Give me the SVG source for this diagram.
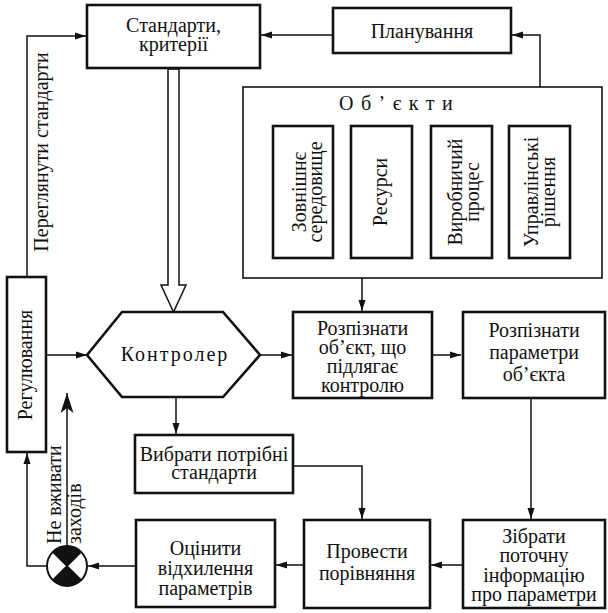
<svg xmlns="http://www.w3.org/2000/svg" width="608" height="613" viewBox="0 0 608 613">
<defs>
<style>
.box{fill:#fff;stroke:#111;stroke-width:2.6}
.frame{fill:#fff;stroke:#111;stroke-width:1.6}
.ln{fill:none;stroke:#111;stroke-width:1.5}
.t{font-family:"Liberation Serif","Times New Roman",serif;font-size:20px;fill:#111;text-anchor:middle}
.s{text-anchor:start}
</style>
<marker id="arr" markerUnits="userSpaceOnUse" markerWidth="11" markerHeight="8" refX="11" refY="4" orient="auto">
<path d="M0,0.5 L11,4 L0,7.5 z" fill="#111"/>
</marker>
<marker id="bold" markerUnits="userSpaceOnUse" markerWidth="20" markerHeight="14" refX="20" refY="7" orient="auto">
<path d="M0,0.5 L20,7 L0,13.5 L5,7 z" fill="#111"/>
</marker>
</defs>
<rect width="608" height="613" fill="#fff"/>

<g id="connectors">
<polyline class="ln" points="27,277 27,36 86,36" marker-end="url(#arr)"/>
<line class="ln" x1="333" y1="35" x2="261" y2="35" marker-end="url(#arr)"/>
<polyline class="ln" points="540,87 540,35 512,35" marker-end="url(#arr)"/>
<polygon points="168,69 179,69 179,285 186,285 173.5,312 161,285 168,285" fill="#fff" stroke="#111" stroke-width="1.5" stroke-linejoin="miter"/>
<line class="ln" x1="362" y1="278" x2="362" y2="311" marker-end="url(#arr)"/>
<line class="ln" x1="46" y1="355" x2="87" y2="355" marker-end="url(#arr)"/>
<line class="ln" x1="260" y1="355" x2="292" y2="355" marker-end="url(#arr)"/>
<line class="ln" x1="432" y1="355" x2="461" y2="355" marker-end="url(#arr)"/>
<line class="ln" x1="531" y1="398" x2="531" y2="519" marker-end="url(#arr)"/>
<line class="ln" x1="462" y1="565" x2="431" y2="565" marker-end="url(#arr)"/>
<line class="ln" x1="304" y1="565" x2="276" y2="565" marker-end="url(#arr)"/>
<line class="ln" x1="136" y1="566" x2="88" y2="566" marker-end="url(#arr)"/>
<polyline class="ln" points="47,566 27,566 27,453" marker-end="url(#arr)"/>
<line class="ln" x1="67" y1="546" x2="67" y2="393" marker-end="url(#bold)"/>
<line class="ln" x1="176" y1="397" x2="176" y2="434" marker-end="url(#arr)"/>
<polyline class="ln" points="293,466 362,466 362,519" marker-end="url(#arr)"/>
<text class="t" transform="translate(48,152) rotate(-90)">Переглянути стандарти</text>
<text class="t s" transform="translate(61,544) rotate(-90)">Не вживати</text>
<text class="t s" transform="translate(81,544) rotate(-90)">заходів</text>
</g>

<g id="standards">
<rect class="box" x="87" y="5" width="173" height="63"/>
<text class="t" x="173.5" y="32">Стандарти,</text>
<text class="t" x="173.5" y="51">критерії</text>
</g>

<g id="planning">
<rect class="box" x="333" y="8" width="178" height="45"/>
<text class="t" x="422" y="38">Планування</text>
</g>

<g id="objects">
<rect class="frame" x="243" y="87" width="359" height="191"/>
<text class="t s" x="339" y="110" letter-spacing="7.5">Об’єкти</text>
<g id="obj-env">
<rect class="box" x="273" y="126" width="60" height="132"/>
<text class="t" transform="translate(303,192) rotate(-90)"><tspan x="0" y="3">Зовнішнє</tspan><tspan x="0" y="19">середовище</tspan></text>
</g>
<g id="obj-res">
<rect class="box" x="351" y="126" width="61" height="132"/>
<text class="t" transform="translate(381.5,192) rotate(-90)" y="5">Ресурси</text>
</g>
<g id="obj-prod">
<rect class="box" x="431" y="126" width="61" height="132"/>
<text class="t" transform="translate(461.5,192) rotate(-90)"><tspan x="0" y="0">Виробничий</tspan><tspan x="0" y="17">процес</tspan></text>
</g>
<g id="obj-mgmt">
<rect class="box" x="509" y="126" width="61" height="132"/>
<text class="t" transform="translate(539.5,192) rotate(-90)"><tspan x="0" y="-2">Управлінські</tspan><tspan x="0" y="15">рішення</tspan></text>
</g>
</g>

<g id="regulation">
<rect class="box" x="7" y="277" width="39" height="175"/>
<text class="t" transform="translate(32,365) rotate(-90)">Регулювання</text>
</g>

<g id="controller">
<polygon class="box" points="87,355 122,312 223,312 260,355 223,397 122,397"/>
<text class="t" x="175" y="361" letter-spacing="2">Контролер</text>
</g>

<g id="identify-object">
<rect class="box" x="293" y="312" width="139" height="86"/>
<text class="t" x="362.5" y="335">Розпізнати</text>
<text class="t" x="362.5" y="354">об’єкт, що</text>
<text class="t" x="362.5" y="373">підлягає</text>
<text class="t" x="362.5" y="392">контролю</text>
</g>

<g id="identify-params">
<rect class="box" x="463" y="312" width="142" height="86"/>
<text class="t" x="534" y="337">Розпізнати</text>
<text class="t" x="534" y="359">параметри</text>
<text class="t" x="534" y="381">об’єкта</text>
</g>

<g id="select-standards">
<rect class="box" x="135" y="435" width="158" height="58"/>
<text class="t" x="214" y="461">Вибрати потрібні</text>
<text class="t" x="214" y="479">стандарти</text>
</g>

<g id="collect-info">
<rect class="box" x="463" y="520" width="142" height="88"/>
<text class="t" x="534" y="543">Зібрати</text>
<text class="t" x="534" y="562">поточну</text>
<text class="t" x="534" y="582">інформацію</text>
<text class="t" x="534" y="601">про параметри</text>
</g>

<g id="compare">
<rect class="box" x="304" y="520" width="126" height="88"/>
<text class="t" x="367" y="558">Провести</text>
<text class="t" x="367" y="580">порівняння</text>
</g>

<g id="evaluate">
<rect class="box" x="136" y="520" width="139" height="87"/>
<text class="t" x="205.5" y="555">Оцінити</text>
<text class="t" x="205.5" y="575">відхилення</text>
<text class="t" x="205.5" y="595">параметрів</text>
</g>

<g id="decision">
<circle cx="67" cy="566" r="20" fill="#fff" stroke="#111" stroke-width="2"/>
<path d="M67,566 L52.86,551.86 A20,20 0 0 1 81.14,551.86 Z M67,566 L81.14,580.14 A20,20 0 0 1 52.86,580.14 Z" fill="#111"/>
<path d="M52.86,551.86 L81.14,580.14 M81.14,551.86 L52.86,580.14" stroke="#111" stroke-width="1.5"/>
</g>
</svg>
